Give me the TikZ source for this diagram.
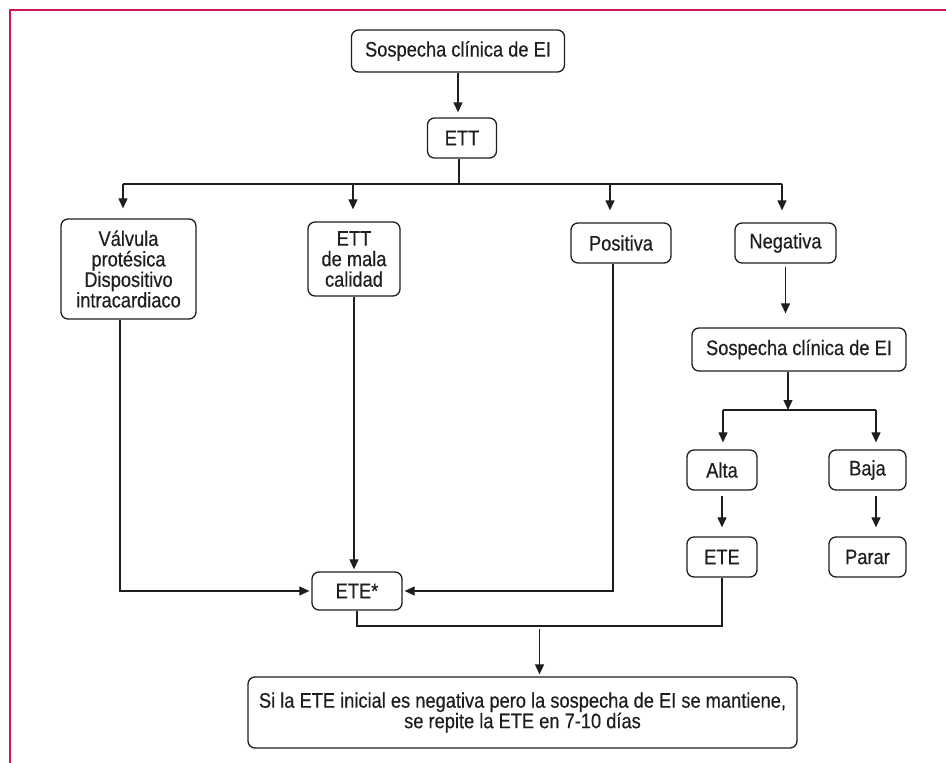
\documentclass[tikz,border=0pt]{standalone}
\usepackage{fontspec}
\setmainfont[FakeStretch=0.87,FakeBold=0.4]{Liberation Sans}
\usetikzlibrary{arrows.meta,calc}
\definecolor{framecol}{RGB}{204,24,76}
\definecolor{ink}{RGB}{30,30,30}
\tikzset{
  box/.style={draw=ink, rounded corners=7pt, line width=1.3pt, align=center, inner sep=0pt, text=ink, font=\fontsize{21}{20.5}\selectfont},
  arr/.style={draw=ink, line width=1.2pt, -{Triangle[length=10pt,width=9pt]}, shorten >=7pt},
  ln/.style={draw=ink, line width=1.2pt},
  frameline/.style={draw=framecol, line width=2pt}
}
\begin{document}
\begin{tikzpicture}[x=1pt,y=-1pt]
\useasboundingbox (0,0) rectangle (946,763);
\draw[frameline] (10,763) -- (10,10) -- (946,10);

\node[box, minimum width=213pt, minimum height=42pt] (s1) at (458,51) {Sospecha clínica de EI};
\node[box, minimum width=69pt, minimum height=40pt] (ett) at (462,138) {ETT};
\node[box, minimum width=135pt, minimum height=100pt] (valv) at (128.5,269) {Válvula\\protésica\\Dispositivo\\intracardiaco};
\node[box, minimum width=92pt, minimum height=74pt] (mala) at (354,259) {ETT\\de mala\\calidad};
\node[box, minimum width=100pt, minimum height=40pt] (pos) at (621,243) {Positiva};
\node[box, minimum width=101pt, minimum height=40pt] (neg) at (785.5,243) {Negativa};
\node[box, minimum width=214pt, minimum height=43pt] (s2) at (799,349.5) {Sospecha clínica de EI};
\node[box, minimum width=70pt, minimum height=40pt] (alta) at (722,470) {Alta};
\node[box, minimum width=77pt, minimum height=40pt] (baja) at (867.5,470) {Baja};
\node[box, minimum width=70pt, minimum height=40pt] (ete) at (722,557) {ETE};
\node[box, minimum width=77pt, minimum height=40pt] (parar) at (867.5,557) {Parar};
\node[box, minimum width=90pt, minimum height=38pt] (etes) at (357,591) {ETE*};
\node[box, minimum width=549pt, minimum height=71pt] (final) at (522.5,712.5) {Si la ETE inicial es negativa pero la sospecha de EI se mantiene,\\se repite la ETE en 7-10 días};

% top
\draw[arr, shorten >=5pt] (s1.south) -- (s1.south |- ett.north);
\coordinate (sp) at (459,184);
\coordinate (d1) at (123,184);
\coordinate (d2) at (353,184);
\coordinate (d3) at (610,184);
\coordinate (d4) at (782,184);
\draw[ln] ($(ett.south)+(-3,0)$) -- (sp);
\draw[ln] (d1) -- (d4);
\draw[arr, shorten >=10pt] (d1) -- (d1 |- valv.north);
\draw[arr, shorten >=12pt] (d2) -- (d2 |- mala.north);
\draw[arr, shorten >=12pt] (d3) -- (d3 |- pos.north);
\draw[arr, shorten >=12pt] (d4) -- (d4 |- neg.north);

% to ETE*
\draw[arr, shorten >=2pt] ($(valv.south)+(-8.5,0)$) |- (etes.west);
\draw[arr, shorten >=2pt] (mala.south) -- (mala.south |- etes.north);
\draw[arr, shorten >=2pt] ($(pos.south)+(-8,0)$) |- (etes.east);

% right branch
\draw[arr, shorten <=3pt, shorten >=14pt] (neg.south) -- (neg.south |- s2.north);
\coordinate (sp2) at (788,410);
\coordinate (d5) at (723,410);
\coordinate (d6) at (876,410);
\draw[arr, shorten >=0pt] ($(s2.south)+(-11,0)$) -- (sp2);
\draw[ln] (d5) -- (d6);
\draw[arr] (d5) -- (d5 |- alta.north);
\draw[arr] (d6) -- (d6 |- baja.north);
\draw[arr, shorten <=5pt, shorten >=9pt] (alta.south) -- (alta.south |- ete.north);
\draw[arr, shorten <=5pt, shorten >=9pt] ($(baja.south)+(8.5,0)$) -- ($(parar.north)+(8.5,0)$);

% bottom
\coordinate (jn) at (539.5,626);
\draw[ln] (etes.south) |- (jn) -| (ete.south);
\draw[arr, shorten <=3pt, shorten >=2pt] (jn) -- (jn |- final.north);
\end{tikzpicture}
\end{document}
